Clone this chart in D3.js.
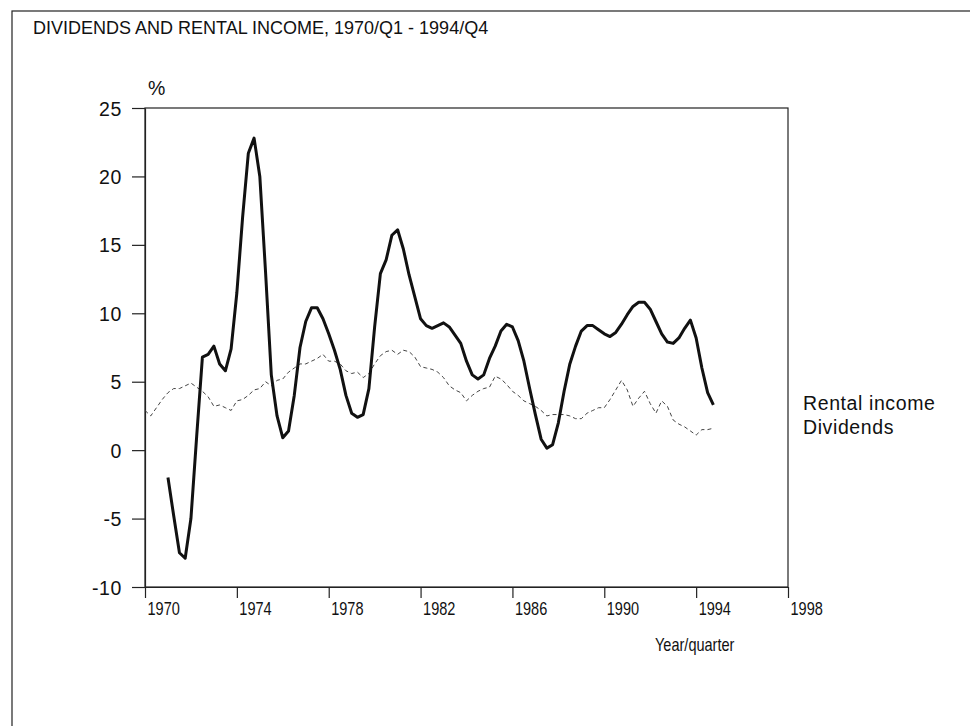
<!DOCTYPE html>
<html>
<head>
<meta charset="utf-8">
<title>Dividends and rental income</title>
<script src="https://cdn.jsdelivr.net/npm/d3@7"></script>
<style>
body { margin: 0; background: #fff; overflow: hidden; }
svg { display: block; }
svg text {
  font-family: "Liberation Sans", Arial, Helvetica, sans-serif;
  fill: #111;
}
.title { font-size: 18px; }
.ylab, .legend, .pct { font-size: 19.5px; letter-spacing: 0.6px; }
.narrow { font-size: 17.5px; }
.axis path, .axis line { stroke: #222; stroke-width: 1.2px; }
.frame { fill: none; stroke: #222; stroke-width: 1.2px; }
.line { fill: none; }
.thick { stroke: #111; stroke-width: 3px; stroke-linejoin: round; }
.dashed { stroke: #444; stroke-width: 1px; stroke-dasharray: 4,3; }
</style>
</head>
<body>
<script>

// chart values
var firstYear = 1970;
var xTicks = [1970, 1974, 1978, 1982, 1986, 1990, 1994, 1998];
var yTicks = [-10, -5, 0, 5, 10, 15, 20, 25];
var legendLabels = ["Rental income", "Dividends"];

// solid line, quarterly from 1971/Q1 to 1994/Q4
var solidStart = 4; // quarter index from 1970/Q1
var solidValues = [
  -2.0, -4.8, -7.5, -7.9, -5.0, 1.0, 6.8, 7.0, 7.6, 6.3, 5.8, 7.4,
  11.5, 17.0, 21.7, 22.8, 20.0, 13.0, 5.5, 2.5, 0.9, 1.4, 4.0, 7.5,
  9.4, 10.4, 10.4, 9.6, 8.5, 7.3, 5.9, 4.0, 2.7, 2.4, 2.6, 4.5,
  9.0, 12.9, 13.9, 15.7, 16.1, 14.7, 12.8, 11.2, 9.6, 9.1, 8.9, 9.1,
  9.3, 9.0, 8.4, 7.8, 6.5, 5.5, 5.2, 5.5, 6.7, 7.6, 8.7, 9.2,
  9.0, 8.0, 6.5, 4.5, 2.6, 0.8, 0.15, 0.4, 2.0, 4.3, 6.3, 7.6,
  8.7, 9.1, 9.1, 8.8, 8.5, 8.3, 8.6, 9.2, 9.9, 10.5, 10.8, 10.8,
  10.3, 9.4, 8.5, 7.9, 7.8, 8.2, 8.9, 9.5, 8.2, 6.0, 4.2, 3.3
];

// dashed line, quarterly from 1970/Q1 to 1994/Q4
var dashedStart = 0;
var dashedValues = [
  2.9, 2.5, 3.1, 3.7, 4.2, 4.5, 4.5, 4.7, 4.9, 4.6, 4.3, 3.9,
  3.2, 3.3, 3.1, 2.9, 3.6, 3.7, 4.0, 4.4, 4.5, 5.0, 4.7, 5.1,
  5.2, 5.7, 6.0, 6.3, 6.3, 6.5, 6.7, 7.0, 6.5, 6.5, 6.3, 5.8,
  5.6, 5.7, 5.3, 5.6, 6.3, 6.9, 7.2, 7.3, 7.0, 7.3, 7.2, 6.8,
  6.1, 6.0, 5.9, 5.7, 5.3, 4.7, 4.4, 4.2, 3.6, 4.0, 4.3, 4.5,
  4.6, 5.4, 5.2, 4.8, 4.3, 4.0, 3.6, 3.4, 3.2, 2.9, 2.5, 2.6,
  2.6, 2.6, 2.5, 2.3, 2.3, 2.7, 2.9, 3.1, 3.1, 3.7, 4.4, 5.1,
  4.4, 3.2, 3.8, 4.3, 3.4, 2.7, 3.6, 3.2, 2.2, 1.9, 1.7, 1.4,
  1.1, 1.5, 1.5, 1.6
];

var width = 970, height = 726;
var squeeze = 0.83; // x labels are set a little narrower

var svg = d3.select("body").append("svg")
    .attr("width", width)
    .attr("height", height);

// outer box, right and bottom sides run off the page
svg.append("rect")
    .attr("class", "frame")
    .attr("x", 12).attr("y", 11)
    .attr("width", 1100).attr("height", 900);

svg.append("text")
    .attr("class", "title")
    .attr("x", 33).attr("y", 34)
    .text("DIVIDENDS AND RENTAL INCOME, 1970/Q1 - 1994/Q4");

var x = d3.scaleLinear().domain([1970, 1998]).range([145, 788]);
var y = d3.scaleLinear().domain([-10, 25]).range([587, 108]);

// plot frame
svg.append("rect")
    .attr("class", "frame")
    .attr("x", x(1970)).attr("y", y(25))
    .attr("width", x(1998) - x(1970))
    .attr("height", y(-10) - y(25));

var yAxis = svg.append("g")
    .attr("class", "axis")
    .attr("transform", "translate(" + x(1970) + ",0)")
    .call(d3.axisLeft(y).tickValues(yTicks).tickFormat(function(d) { return String(d); })
      .tickSize(13).tickSizeOuter(0).tickPadding(10));
yAxis.selectAll("text").attr("class", "ylab").attr("dy", "0.36em");

var xAxis = svg.append("g")
    .attr("class", "axis")
    .attr("transform", "translate(0," + y(-10) + ")")
    .call(d3.axisBottom(x).tickValues(xTicks).tickFormat(function(d) { return String(d); })
      .tickSize(11).tickSizeOuter(0));
xAxis.selectAll("text")
    .attr("class", "narrow")
    .attr("text-anchor", "start")
    .attr("x", 2 / squeeze)
    .attr("y", 16)
    .attr("dy", "0.71em")
    .attr("transform", "scale(" + squeeze + ",1)");
svg.selectAll(".axis").attr("font-family", null).attr("font-size", null);

svg.append("text")
    .attr("class", "pct")
    .attr("x", 148).attr("y", 95)
    .text("%");

svg.append("text")
    .attr("class", "narrow")
    .attr("transform", "translate(655,651) scale(" + squeeze + ",1)")
    .text("Year/quarter");

var toPoints = function(values, start) {
  return values.map(function(v, i) {
    return { t: firstYear + (start + i) / 4, v: v };
  });
};

var line = d3.line()
    .x(function(d) { return x(d.t); })
    .y(function(d) { return y(d.v); });

svg.append("path")
    .attr("class", "line dashed")
    .attr("d", line(toPoints(dashedValues, dashedStart)));

svg.append("path")
    .attr("class", "line thick")
    .attr("d", line(toPoints(solidValues, solidStart)));

svg.selectAll(".legend")
    .data(legendLabels).enter()
    .append("text")
    .attr("class", "legend")
    .attr("x", 803)
    .attr("y", function(d, i) { return 410 + i * 24; })
    .text(function(d) { return d; });

</script>
</body>
</html>
